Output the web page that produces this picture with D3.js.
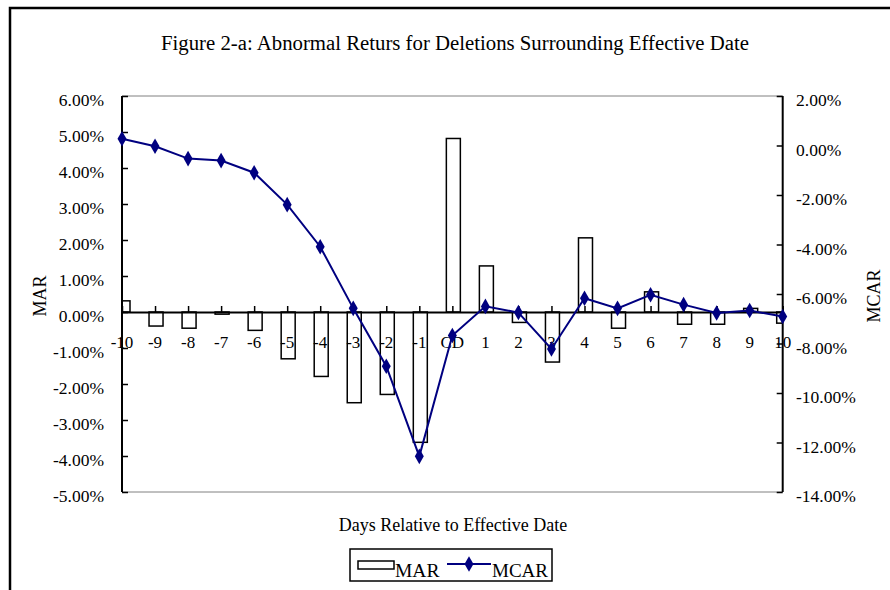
<!DOCTYPE html>
<html><head><meta charset="utf-8">
<script src="https://cdn.jsdelivr.net/npm/d3@7"></script>
<style>body{margin:0;background:#fff}svg{display:block}text{font-family:"Liberation Serif","Times New Roman",serif;fill:#000}</style>
</head><body><svg id="c" width="890" height="590"></svg>
<script>
const categories = ["-10","-9","-8","-7","-6","-5","-4","-3","-2","-1","CD","1","2","3","4","5","6","7","8","9","10"];
const mar = [0.31,-0.39,-0.45,-0.06,-0.51,-1.30,-1.79,-2.52,-2.29,-3.62,4.82,1.28,-0.29,-1.39,2.06,-0.45,0.56,-0.34,-0.34,0.10,-0.31];
const mcar = [0.27,-0.03,-0.53,-0.61,-1.10,-2.39,-4.09,-6.58,-8.92,-12.56,-7.68,-6.50,-6.75,-8.22,-6.17,-6.58,-6.03,-6.43,-6.77,-6.67,-6.91];
const leftTicks = [6,5,4,3,2,1,0,-1,-2,-3,-4,-5];
const rightTicks = [2,0,-2,-4,-6,-8,-10,-12,-14];
const title = "Figure 2-a: Abnormal Returs for Deletions Surrounding Effective Date";

const svg = d3.select("#c");
const L = 122, R = 782.7, T = 96, B = 492;
const x = d3.scalePoint().domain(categories).range([L, R]);
const yL = d3.scaleLinear().domain([-5, 6]).range([B, T]);
const yR = d3.scaleLinear().domain([-14, 2]).range([B, T]);
const fmt = v => v.toFixed(2) + "%";

// outer frame
svg.append("path").attr("d", `M10,600 L10,8 L890,8`).attr("fill","none").attr("stroke","#000").attr("stroke-width",2.5);

// title
svg.append("text").attr("x", 455).attr("y", 50).attr("text-anchor","middle").attr("font-size",20.5)
  .attr("textLength", 588).attr("lengthAdjust","spacingAndGlyphs").text(title);

// plot area border (gray top/bottom)
svg.append("line").attr("x1",L).attr("x2",R).attr("y1",T).attr("y2",T).attr("stroke","#808080").attr("stroke-width",1);
svg.append("line").attr("x1",L).attr("x2",R).attr("y1",B).attr("y2",B).attr("stroke","#808080").attr("stroke-width",1);

// clip
svg.append("clipPath").attr("id","pa").append("rect").attr("x",L).attr("y",T).attr("width",R-L).attr("height",B-T);

// bars
const bw = 14;
svg.append("g").attr("clip-path","url(#pa)").selectAll("rect").data(mar).join("rect")
  .attr("x",(d,i)=>x(categories[i]) + 1 - bw/2)
  .attr("y",d=>yL(Math.max(0,d)))
  .attr("width",bw)
  .attr("height",d=>Math.max(1.5, Math.abs(yL(d)-yL(0))))
  .attr("fill","#fff").attr("stroke","#000").attr("stroke-width",1.5);

// zero axis line with category ticks
const zeroY = yL(0);
const xAxis = d3.axisBottom(x).tickSizeInner(-6).tickSizeOuter(0).tickFormat("");
const gx = svg.append("g").attr("transform",`translate(0,${zeroY})`).call(xAxis);
gx.select(".domain").attr("stroke","#000").attr("stroke-width",2);
gx.selectAll(".tick line").attr("stroke","#000").attr("stroke-width",1.5);
svg.append("g").selectAll("text").data(categories).join("text")
  .attr("x",d=>x(d)).attr("y",zeroY+36).attr("text-anchor","middle").attr("font-size",17).text(d=>d);

// left axis
const gl = svg.append("g").attr("transform",`translate(${L},0)`)
  .call(d3.axisRight(yL).tickValues(leftTicks).tickSize(6).tickFormat(""));
gl.select(".domain").attr("stroke","#000").attr("stroke-width",2).attr("d",`M0,${T}V${B}`);
gl.selectAll(".tick line").attr("stroke","#000").attr("stroke-width",1.5);
svg.append("g").selectAll("text").data(leftTicks).join("text")
  .attr("x",104).attr("y",d=>yL(d)+10).attr("text-anchor","end").attr("font-size",17.5).text(fmt);

// right axis
const gr = svg.append("g").attr("transform",`translate(${R},0)`)
  .call(d3.axisLeft(yR).tickValues(rightTicks).tickSize(6).tickFormat(""));
gr.select(".domain").attr("stroke","#000").attr("stroke-width",2).attr("d",`M0,${T}V${B}`);
gr.selectAll(".tick line").attr("stroke","#000").attr("stroke-width",1.5);
svg.append("g").selectAll("text").data(rightTicks).join("text")
  .attr("x",796).attr("y",d=>yR(d)+10).attr("text-anchor","start").attr("font-size",17.5).text(fmt);

// MCAR line
const line = d3.line().x((d,i)=>x(categories[i])).y(d=>yR(d));
svg.append("path").datum(mcar).attr("d",line).attr("fill","none").attr("stroke","#000080").attr("stroke-width",2);
const diamond = d3.symbol().type(d3.symbolDiamond).size(70);
svg.append("g").selectAll("path").data(mcar).join("path")
  .attr("transform",(d,i)=>`translate(${x(categories[i])},${yR(d)})`)
  .attr("d",diamond).attr("fill","#000080");

// axis titles
svg.append("text").attr("transform","translate(46,296) rotate(-90)").attr("text-anchor","middle").attr("font-size",18).text("MAR");
svg.append("text").attr("transform","translate(880,296) rotate(-90)").attr("text-anchor","middle").attr("font-size",18).text("MCAR");
svg.append("text").attr("x",453).attr("y",531).attr("text-anchor","middle").attr("font-size",18).text("Days Relative to Effective Date");

// legend
const lg = svg.append("g");
lg.append("rect").attr("x",350).attr("y",549).attr("width",202).attr("height",32).attr("fill","#fff").attr("stroke","#000").attr("stroke-width",1.5);
lg.append("rect").attr("x",358).attr("y",561).attr("width",36).attr("height",8).attr("fill","#fff").attr("stroke","#000").attr("stroke-width",1.5);
lg.append("text").attr("x",395).attr("y",577).attr("font-size",19.5).text("MAR");
lg.append("line").attr("x1",447).attr("x2",491).attr("y1",564).attr("y2",564).attr("stroke","#000080").attr("stroke-width",2);
lg.append("path").attr("transform","translate(469,564)").attr("d",diamond).attr("fill","#000080");
lg.append("text").attr("x",492).attr("y",577).attr("font-size",19).text("MCAR");
</script></body></html>
